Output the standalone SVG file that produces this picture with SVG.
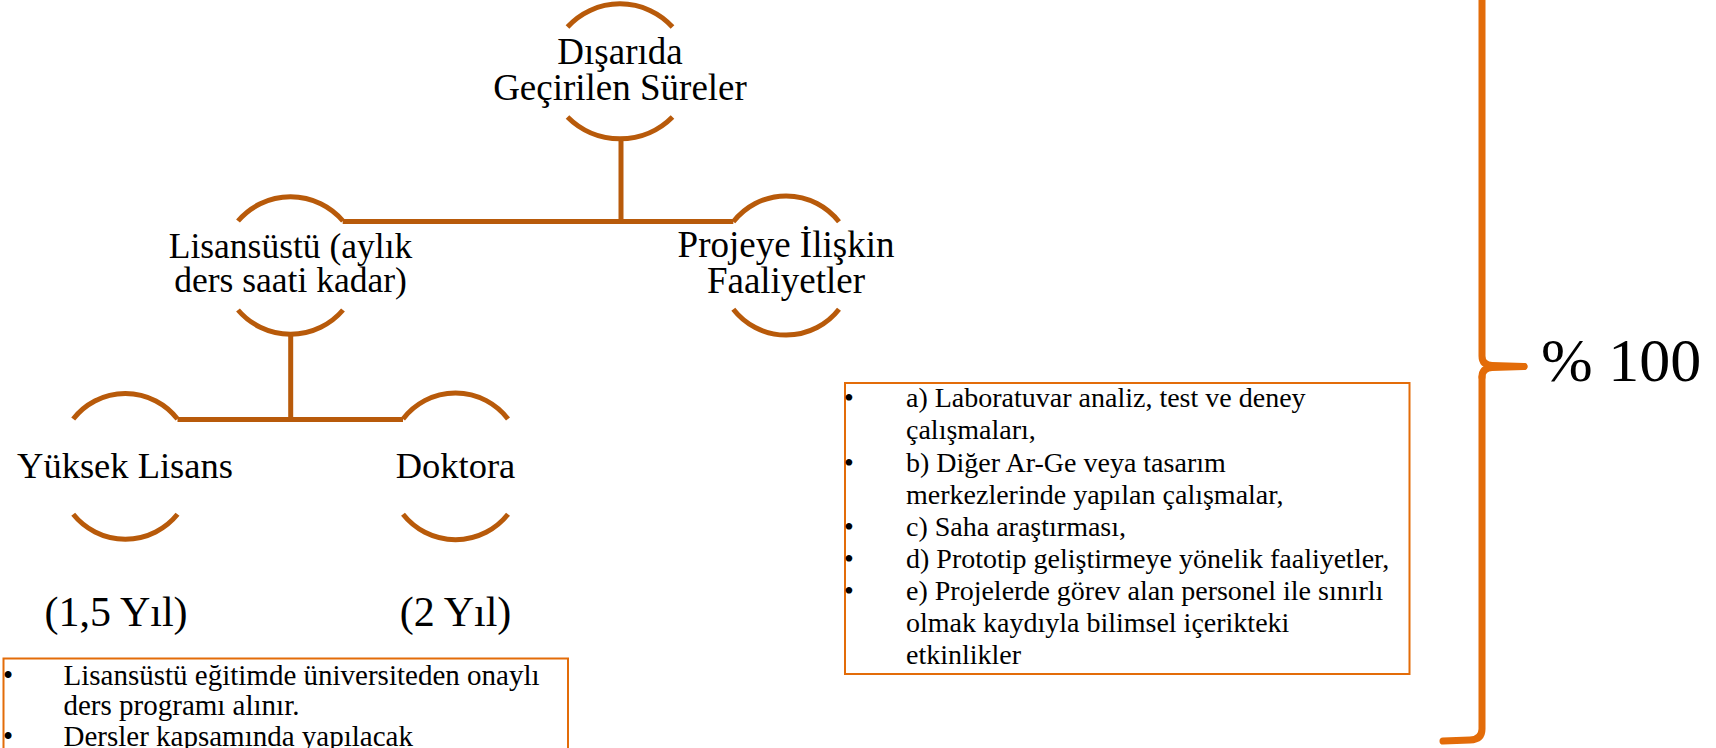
<svg xmlns="http://www.w3.org/2000/svg" width="1716" height="748" viewBox="0 0 1716 748">
<style>
.arc{fill:none;stroke:#B85A0A;stroke-width:5}
.con{fill:none;stroke:#B85A0A;stroke-width:5}
.t{font-family:"Liberation Serif","Times New Roman",serif;fill:#000;text-anchor:middle}
.b{font-family:"Liberation Serif","Times New Roman",serif;fill:#000}
.box{fill:#fff;stroke:#E36C09;stroke-width:2}
.brace{fill:none;stroke:#E36C09;stroke-width:7;stroke-linecap:round;stroke-linejoin:round}
</style>
<rect width="1716" height="748" fill="#fff"/>
<g id="connectors">
<path class="con" d="M621,138 V221.5"/>
<path class="con" d="M342.7,221.5 H733.3"/>
<path class="con" d="M290.7,334 V419.5"/>
<path class="con" d="M177.5,419.5 H403"/>
</g>
<g id="node-top">
<path class="arc" d="M567.5,27 A71 71 0 0 1 672.5,27"/>
<path class="arc" d="M567.5,117 A74 74 0 0 0 672.5,117"/>
<text class="t" x="620" y="64" font-size="37">Dışarıda</text>
<text class="t" x="620" y="99.5" font-size="37">Geçirilen Süreler</text>
</g>
<g id="node-lisansustu">
<path class="arc" d="M238,221 A69 69 0 0 1 343,221"/>
<path class="arc" d="M238,310 A69 69 0 0 0 343,310"/>
<text class="t" x="290.5" y="258.3" font-size="35.5">Lisansüstü (aylık</text>
<text class="t" x="290.5" y="291.7" font-size="35.5">ders saati kadar)</text>
</g>
<g id="node-projeye">
<path class="arc" d="M733.3,221.7 A67 67 0 0 1 839,221.7"/>
<path class="arc" d="M733.3,309.3 A67 67 0 0 0 839,309.3"/>
<text class="t" x="786" y="257.3" font-size="37">Projeye İlişkin</text>
<text class="t" x="786" y="293.3" font-size="37">Faaliyetler</text>
</g>
<g id="node-yuksek-lisans">
<path class="arc" d="M73.2,419 A66 66 0 0 1 177.5,419"/>
<path class="arc" d="M73.2,514.3 A67 67 0 0 0 177.5,514.3"/>
<text class="t" x="125" y="478" font-size="36.5">Yüksek Lisans</text>
<text class="t" x="116" y="626" font-size="42">(1,5 Yıl)</text>
</g>
<g id="node-doktora">
<path class="arc" d="M403,419 A66 66 0 0 1 508,419"/>
<path class="arc" d="M403,514.3 A67 67 0 0 0 508,514.3"/>
<text class="t" x="455.5" y="478" font-size="36.5">Doktora</text>
<text class="t" x="455.5" y="626" font-size="42">(2 Yıl)</text>
</g>
<g id="box-left">
<rect class="box" x="3.5" y="658.5" width="564.5" height="110"/>
<g class="b" font-size="29">
<text x="3" y="685">•</text>
<text x="63.5" y="685">Lisansüstü eğitimde üniversiteden onaylı</text>
<text x="63.5" y="715">ders programı alınır.</text>
<text x="3" y="746">•</text>
<text x="63.5" y="746">Dersler kapsamında yapılacak</text>
</g>
</g>
<g id="box-right">
<rect class="box" x="845" y="383" width="564.5" height="291"/>
<g class="b" font-size="28">
<text x="844" y="407.3">•</text>
<text x="906" y="407.3">a) Laboratuvar analiz, test ve deney</text>
<text x="906" y="439.4">çalışmaları,</text>
<text x="844" y="471.5">•</text>
<text x="906" y="471.5">b) Diğer Ar-Ge veya tasarım</text>
<text x="906" y="503.6">merkezlerinde yapılan çalışmalar,</text>
<text x="844" y="535.7">•</text>
<text x="906" y="535.7">c) Saha araştırması,</text>
<text x="844" y="567.8">•</text>
<text x="906" y="567.8">d) Prototip geliştirmeye yönelik faaliyetler,</text>
<text x="844" y="599.9">•</text>
<text x="906" y="599.9">e) Projelerde görev alan personel ile sınırlı</text>
<text x="906" y="632">olmak kaydıyla bilimsel içerikteki</text>
<text x="906" y="664">etkinlikler</text>
</g>
</g>
<g id="brace">
<path class="brace" d="M1482,-10 V356 Q1482,365 1492,365.5 L1524,366.5"/>
<path class="brace" d="M1482,377 Q1482,368 1492,367.5 L1524,366.5"/>
<path class="brace" d="M1482,377 V729 Q1482,739.5 1470,740 L1443,741"/>
<text class="b" x="1541" y="381" font-size="62">% 100</text>
</g>
</svg>
